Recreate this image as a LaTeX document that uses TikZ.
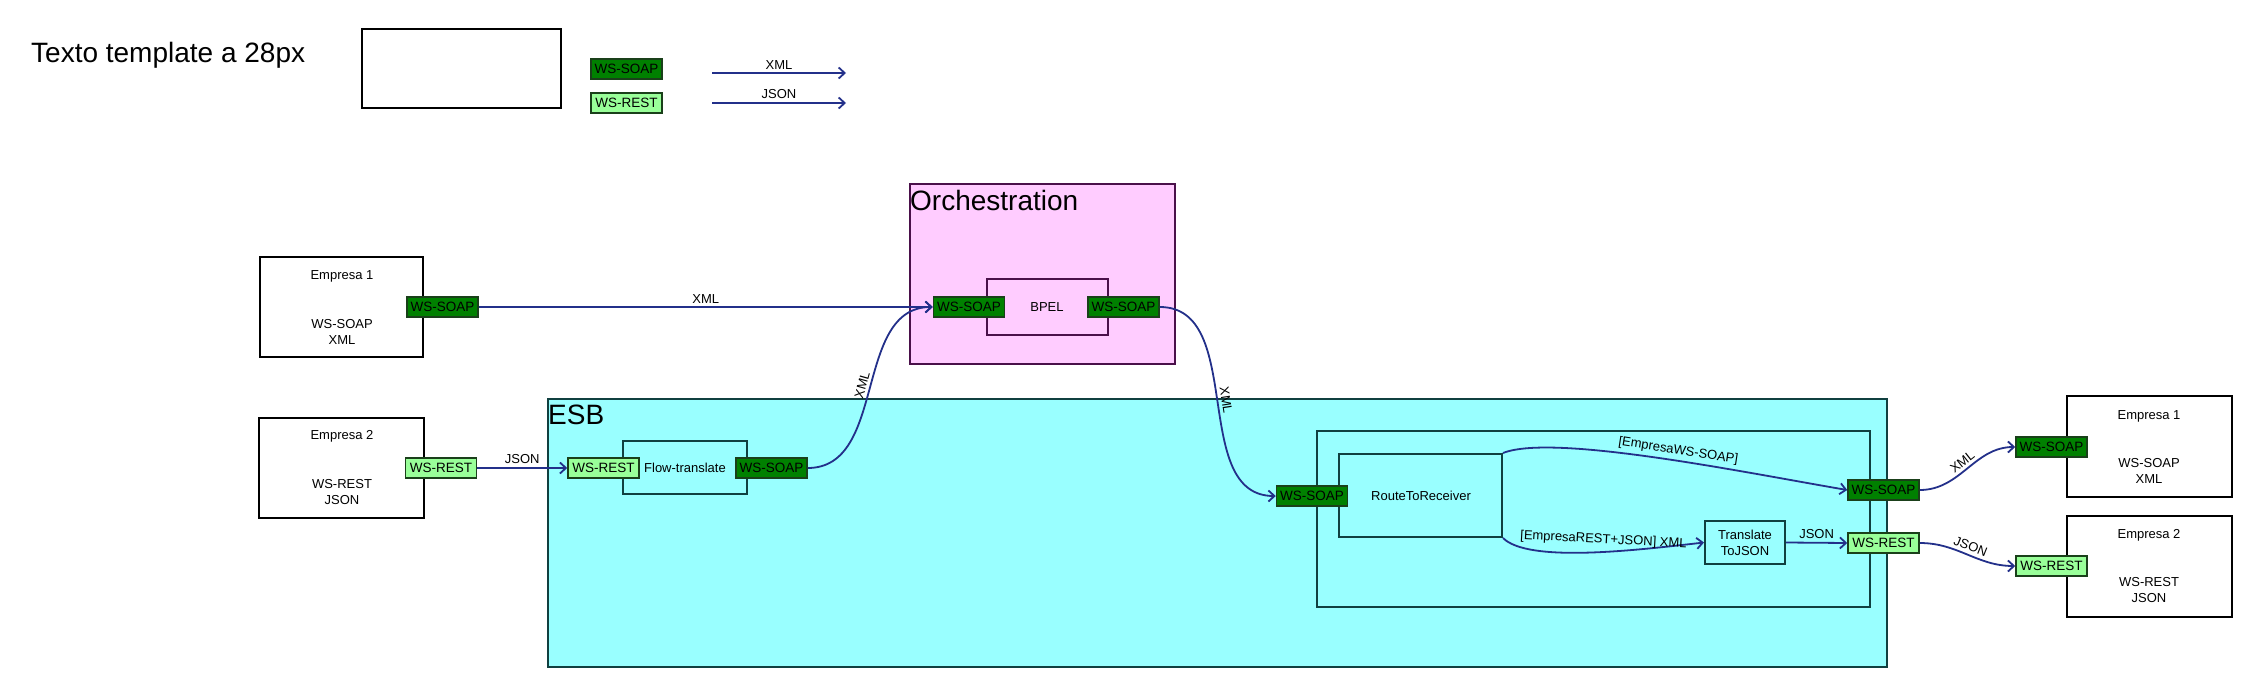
\documentclass[tikz,border=0pt]{standalone}
\usepackage{fontspec}
\setmainfont{Liberation Sans}
\usetikzlibrary{arrows.meta}
\definecolor{arrowblue}{RGB}{35,48,138}
\definecolor{soapgreen}{RGB}{0,128,0}
\definecolor{restgreen}{RGB}{153,255,153}
\definecolor{portborder}{RGB}{26,64,26}
\definecolor{pinkfill}{RGB}{255,204,255}
\definecolor{pinkborder}{RGB}{74,16,74}
\definecolor{cyanfill}{RGB}{153,255,255}
\definecolor{cyanborder}{RGB}{16,64,64}
\begin{document}
\begin{tikzpicture}[x=1pt,y=-1pt,
  box/.style={draw=black, line width=2pt, fill=white, inner sep=0pt},
  cbox/.style={draw=cyanborder, line width=2pt, fill=cyanfill, inner sep=0pt},
  pbox/.style={draw=pinkborder, line width=2pt, fill=pinkfill, inner sep=0pt},
  port/.style={draw=portborder, line width=1.5pt, minimum width=71pt, minimum height=20pt, inner sep=0pt, font=\fontsize{13.5}{15}\selectfont},
  soap/.style={port, fill=soapgreen},
  rest/.style={port, fill=restgreen},
  txt/.style={font=\fontsize{13}{16}\selectfont, align=center, inner sep=0pt},
  big/.style={font=\fontsize{28}{32}\selectfont, inner sep=0pt, anchor=base west},
  lbl/.style={font=\fontsize{13}{15}\selectfont, inner sep=1pt},
  conn/.style={draw=arrowblue, line width=1.8pt, -{Straight Barb[length=6pt,width=11pt]}}
]
\useasboundingbox (0,0) rectangle (2261,698);

% legend
\node[big] (title) at (31,63) {Texto template a 28px};
\node[box, minimum width=199pt, minimum height=79pt] (sample) at (461.5,68.5) {};
\node[soap] (legSoap) at (626.5,69) {WS-SOAP};
\node[rest] (legRest) at (626.5,103) {WS-REST};
\coordinate (lx1) at (712,73); \coordinate (lx2) at (846,73);
\coordinate (lj1) at (712,103); \coordinate (lj2) at (846,103);
\draw[conn] (lx1) -- node[lbl,above=2pt]{XML} (lx2);
\draw[conn] (lj1) -- node[lbl,above=2pt]{JSON} (lj2);

% containers
\node[pbox, minimum width=265pt, minimum height=180pt] (orch) at (1042.5,274) {};
\node[big] (orchT) at (910,210) {Orchestration};
\node[cbox, minimum width=1339pt, minimum height=268pt] (esb) at (1217.5,533) {};
\node[big] (esbT) at (548,424) {ESB};

% left companies
\node[box, minimum width=163pt, minimum height=100pt] (e1L) at (341.5,307) {};
\node[txt] (e1Lt) at (342,276) {Empresa 1};
\node[txt] (e1Ls) at (342,332) {WS-SOAP\\XML};
\node[soap] (e1Lp) at (442.5,307) {WS-SOAP};
\node[box, minimum width=165pt, minimum height=100pt] (e2L) at (341.5,468) {};
\node[txt] (e2Lt) at (342,436) {Empresa 2};
\node[txt] (e2Ls) at (342,492) {WS-REST\\JSON};
\node[rest] (e2Lp) at (441,468) {WS-REST};

% orchestration content
\node[pbox, minimum width=121pt, minimum height=56pt] (bpel) at (1047.5,307) {};
\node[txt] (bpelT) at (1047,307) {BPEL};
\node[soap] (bpelIn) at (969,307) {WS-SOAP};
\node[soap] (bpelOut) at (1123.5,307) {WS-SOAP};

% ESB content
\node[cbox, minimum width=124pt, minimum height=53pt] (flow) at (685,467.5) {};
\node[txt] (flowT) at (685,468) {Flow-translate};
\node[rest] (flowIn) at (603.5,468) {WS-REST};
\node[soap] (flowOut) at (771.5,468) {WS-SOAP};

\node[cbox, minimum width=553pt, minimum height=176pt] (inner) at (1593.5,519) {};
\node[cbox, minimum width=163pt, minimum height=83pt] (route) at (1420.5,495.5) {};
\node[txt] (routeT) at (1421,496) {RouteToReceiver};
\node[soap] (routeIn) at (1312,496) {WS-SOAP};
\node[cbox, minimum width=80pt, minimum height=43pt] (transl) at (1745,542.5) {};
\node[txt] (translT) at (1745,542.5) {Translate\\ToJSON};
\node[soap] (outSoap) at (1883.5,490) {WS-SOAP};
\node[rest] (outRest) at (1883.5,543) {WS-REST};

% right companies
\node[box, minimum width=165pt, minimum height=101pt] (e1R) at (2149.5,446.5) {};
\node[txt] (e1Rt) at (2149,416) {Empresa 1};
\node[txt] (e1Rs) at (2149,471) {WS-SOAP\\XML};
\node[soap] (e1Rp) at (2051.5,447) {WS-SOAP};
\node[box, minimum width=165pt, minimum height=101pt] (e2R) at (2149.5,566.5) {};
\node[txt] (e2Rt) at (2149,535) {Empresa 2};
\node[txt] (e2Rs) at (2149,590) {WS-REST\\JSON};
\node[rest] (e2Rp) at (2051.5,566) {WS-REST};

% connectors
\draw[conn] (e1Lp.east) -- node[lbl,above=2pt]{XML} (bpelIn.west);
\draw[conn] (e2Lp.east) -- node[lbl,above=2pt]{JSON} (flowIn.west);
\draw[conn] (flowOut.east) to[out=0,in=180] node[lbl,above=2pt,sloped]{XML} (bpelIn.west);
\draw[conn] (bpelOut.east) to[out=0,in=180] node[lbl,above=2pt,sloped]{XML} (routeIn.west);
\draw[conn] (route.north east) .. controls +(50,-20) and +(-100,-17) .. node[lbl,above=2pt,sloped,pos=0.55]{[EmpresaWS-SOAP]} (outSoap.west);
\draw[conn] (route.south east) .. controls +(25,25) and +(-70,8) .. node[lbl,above=4pt,pos=0.57,rotate=-3]{[EmpresaREST+JSON] XML} (transl.west);
\draw[conn] (transl.east) -- node[lbl,above=2pt]{JSON} (outRest.west);
\draw[conn] (outSoap.east) to[out=0,in=180] node[lbl,above=2pt,sloped]{XML} (e1Rp.west);
\draw[conn] (outRest.east) to[out=0,in=180] node[lbl,above=2pt,sloped]{JSON} (e2Rp.west);
\end{tikzpicture}
\end{document}
